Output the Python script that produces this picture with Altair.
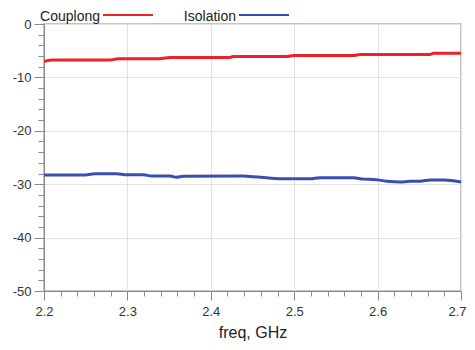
import altair as alt
import pandas as pd

# Couplong series (freq GHz, dB)
coup_f = [2.2, 2.211, 2.279, 2.289, 2.339, 2.351, 2.423, 2.427, 2.491, 2.499, 2.571, 2.579, 2.663, 2.667, 2.7]
coup_v = [-7.0, -6.75, -6.75, -6.5, -6.5, -6.25, -6.25, -6.1, -6.1, -5.9, -5.9, -5.7, -5.7, -5.5, -5.5]

# Isolation series
iso_f = [2.2, 2.247, 2.261, 2.287, 2.299, 2.319, 2.329, 2.351, 2.359, 2.367, 2.439, 2.451, 2.467, 2.487,
         2.519, 2.531, 2.571, 2.583, 2.595, 2.611, 2.627, 2.639, 2.651, 2.663, 2.679, 2.691, 2.7]
iso_v = [-28.3, -28.3, -28.05, -28.05, -28.25, -28.25, -28.45, -28.45, -28.7, -28.5, -28.45, -28.6, -28.8, -29.0,
         -29.0, -28.8, -28.8, -29.05, -29.1, -29.45, -29.6, -29.45, -29.45, -29.2, -29.2, -29.35, -29.6]

series_names = ["Couplong", "Isolation"]
series_colors = ["#ee2028", "#3a4eb0"]

x_ticks = [round(2.2 + 0.02 * i, 2) for i in range(26)]
y_ticks = list(range(-50, 1, 2))

df = pd.concat([
    pd.DataFrame({"freq": coup_f, "val": coup_v, "series": series_names[0]}),
    pd.DataFrame({"freq": iso_f, "val": iso_v, "series": series_names[1]}),
])

x_major = "abs(datum.value*10 - round(datum.value*10)) < 1e-6"
y_major = "datum.value % 10 === 0"

lines = alt.Chart(df).mark_line(strokeWidth=3, interpolate="monotone").encode(
    x=alt.X("freq:Q", scale=alt.Scale(domain=[2.2, 2.7], nice=False, zero=False),
            axis=alt.Axis(title="freq, GHz", values=x_ticks,
                          labelExpr=f"{x_major} ? format(datum.value, '.1f') : ''",
                          labelAlign=alt.expr("datum.value > 2.69 ? 'right' : 'center'"),
                          labelOffset=alt.expr("datum.value > 2.69 ? 5 : 0"),
                          tickSize=alt.expr(f"{x_major} ? 9 : 5"),
                          gridOpacity=alt.expr(f"{x_major} ? 1 : 0"),
                          labelPadding=5, titleY=46, titleBaseline="alphabetic",
                          labelFlush=False, labelOverlap=False)),
    y=alt.Y("val:Q", scale=alt.Scale(domain=[-50, 0], nice=False),
            axis=alt.Axis(title=None, values=y_ticks,
                          labelExpr=f"{y_major} ? ('' + datum.value) : ''",
                          tickSize=alt.expr(f"{y_major} ? 10 : 6"),
                          gridOpacity=alt.expr(f"{y_major} ? 1 : 0"),
                          labelPadding=3, labelOverlap=False)),
    color=alt.Color("series:N", scale=alt.Scale(domain=series_names, range=series_colors),
                    legend=None),
)

# hand-drawn legend (label to the left of its line sample)
legend_layers = []
label_right = [56, 192]
for name, col, lx in zip(series_names, series_colors, label_right):
    legend_layers.append(
        alt.Chart(pd.DataFrame({"t": [name]})).mark_text(
            align="right", baseline="alphabetic", font="Liberation Sans", fontSize=14, color="#222"
        ).encode(text="t:N", x=alt.value(lx), y=alt.value(-3))
    )
    legend_layers.append(
        alt.Chart(pd.DataFrame({"t": [name]})).mark_rule(color=col, strokeWidth=2).encode(
            x=alt.value(lx + 3), x2=alt.value(lx + 53), y=alt.value(-9)
        )
    )

chart = alt.layer(lines, *legend_layers).properties(
    width=417, height=267,
    autosize=alt.AutoSizeParams(type="none"),
    padding={"left": 36, "top": 16, "right": 6, "bottom": 51},
).configure_view(
    stroke="#c4c4c4", strokeWidth=2
).configure_axis(
    domainColor="#8a8a8a", tickColor="#8a8a8a", gridColor="#e2e2e2",
    labelFont="Liberation Sans", labelFontSize=13, labelColor="#333",
    titleFont="Liberation Sans", titleFontSize=16, titleFontWeight="normal", titleColor="#222"
)

chart.save("out.html", embed_options={"renderer": "svg", "actions": False})
